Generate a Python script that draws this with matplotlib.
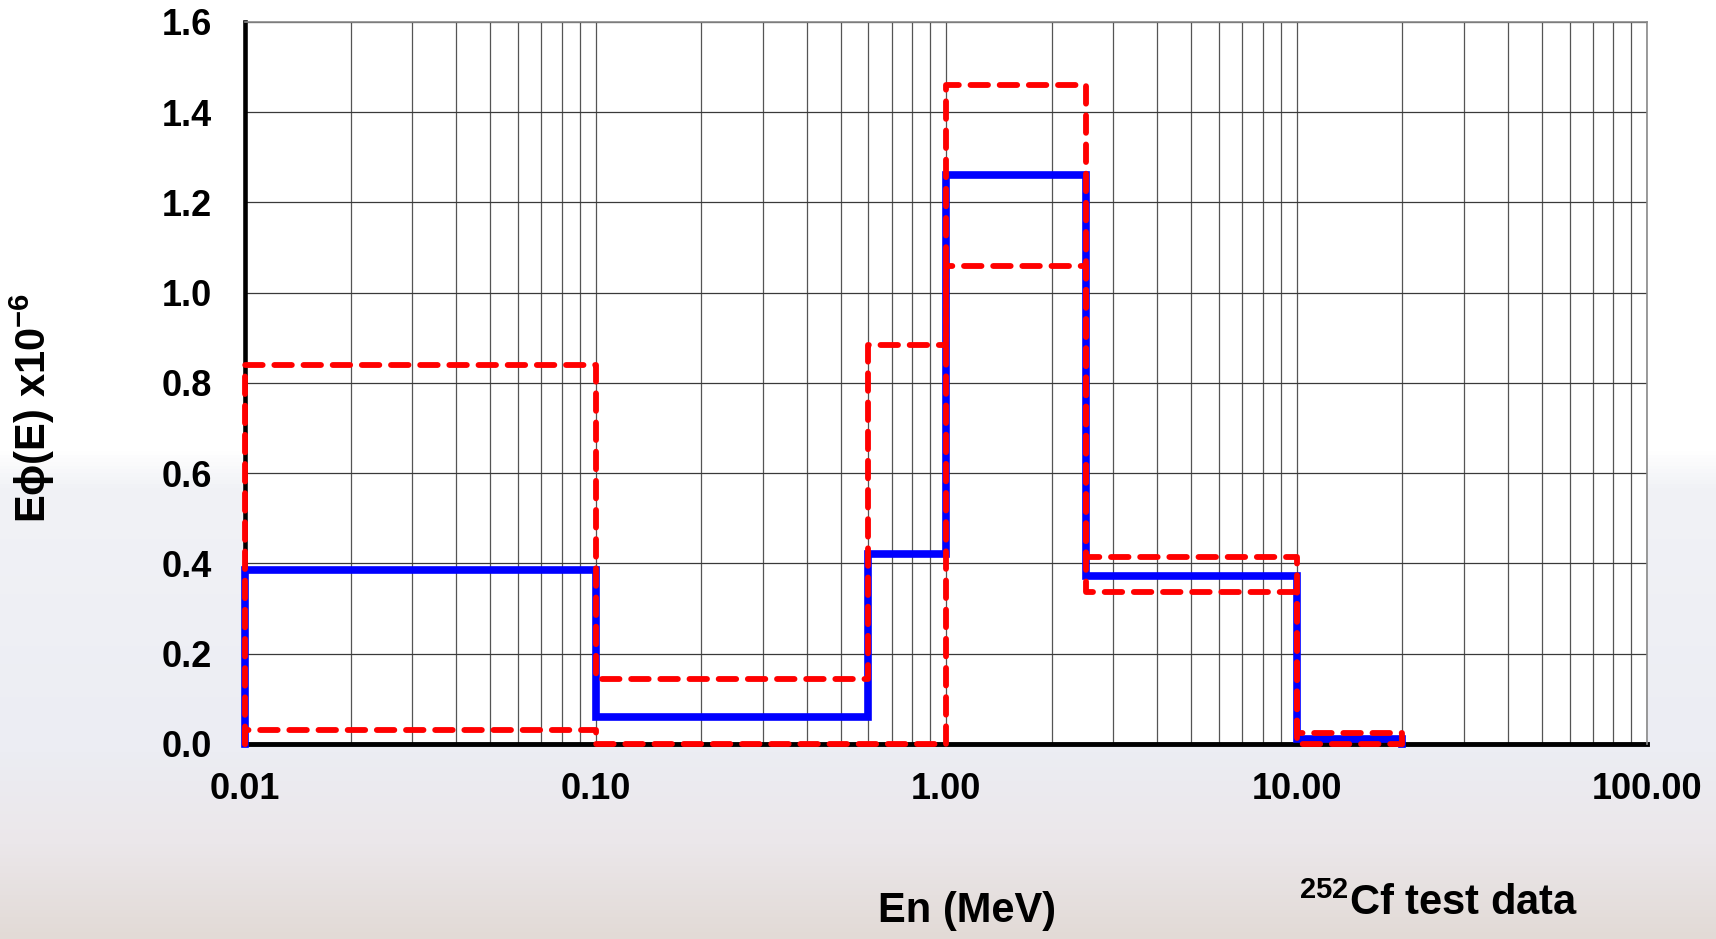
import numpy as np
import matplotlib.pyplot as plt
import matplotlib.colors as mcolors

# --- DATA ---
edges = [0.01, 0.1, 0.6, 1.0, 2.5, 10.0, 20.0]
flux = [0.385, 0.06, 0.42, 1.26, 0.373, 0.01]
flux_upper = [0.84, 0.145, 0.885, 1.46, 0.415, 0.024]
flux_lower = [0.03, 0.0, 0.0, 1.06, 0.337, 0.0]

xticks = [0.01, 0.1, 1.0, 10.0, 100.0]
xtick_labels = ["0.01", "0.10", "1.00", "10.00", "100.00"]
yticks = [0.0, 0.2, 0.4, 0.6, 0.8, 1.0, 1.2, 1.4, 1.6]


def _step(edges, vals):
    """Closed histogram outline starting and ending at zero."""
    xs = [edges[0]]
    ys = [0.0]
    for i, v in enumerate(vals):
        xs += [edges[i], edges[i + 1]]
        ys += [v, v]
    xs.append(edges[-1])
    ys.append(0.0)
    return xs, ys


plt.rcParams['font.family'] = ['Liberation Sans', 'DejaVu Sans']
plt.rcParams['font.weight'] = 'bold'

fig = plt.figure(figsize=(17.16, 9.39), dpi=100)

# faded background (white top, hazy bottom)
bg = fig.add_axes([0, 0, 1, 1], zorder=-10)
cmap = mcolors.LinearSegmentedColormap.from_list(
    'haze', [(0.0, '#ffffff'), (0.48, '#ffffff'), (0.52, '#f1f2f6'),
             (0.8, '#ecedf3'), (0.9, '#ebe7ea'), (1.0, '#e2dad6')])
bg.imshow(np.linspace(0, 1, 256).reshape(-1, 1), aspect='auto', cmap=cmap,
          extent=[0, 1, 0, 1], origin='upper')
bg.axis('off')

ax = fig.add_axes([0.1428, 0.2077, 0.8172, 0.7689])
ax.set_facecolor('white')
ax.set_xscale('log')
ax.set_xlim(0.01, 100)
ax.set_ylim(0, 1.6)

ax.grid(True, which='major', axis='y', color='#3a3a3a', lw=0.9)
ax.grid(True, which='both', axis='x', color='#555555', lw=0.9)
ax.set_axisbelow(True)

x, y = _step(edges, flux)
ax.plot(x, y, color='#0000ff', lw=5.5, zorder=3, clip_on=False,
        solid_joinstyle='miter')
for vals in (flux_upper, flux_lower):
    x, y = _step(edges, vals)
    ax.plot(x, y, color='#ff0000', lw=4.2, zorder=4, clip_on=False,
            linestyle=(0, (3.0, 2.0)), dash_capstyle='round')

for side in ('top', 'right'):
    ax.spines[side].set_color('#8a8a8a')
    ax.spines[side].set_linewidth(1.2)
ax.spines['left'].set_linewidth(3.3)
ax.spines['bottom'].set_linewidth(3.5)
ax.spines['left'].set_zorder(2)
ax.spines['bottom'].set_zorder(2)

ax.set_xticks(xticks)
ax.set_xticklabels(xtick_labels)
ax.set_yticks(yticks)
ax.set_yticklabels([f"{v:.1f}" for v in yticks])
ax.tick_params(axis='both', which='both', length=0)
ax.tick_params(axis='x', pad=20, labelsize=26)
ax.tick_params(axis='y', pad=24, labelsize=26)

fig.text(0.019, 0.566, r'E' + '\u03d5' + r'(E) x10$^{\mathregular{-6}}$',
         rotation=90, ha='center', va='center', fontsize=30, fontweight='bold')
fig.text(0.5635, 0.030, 'En (MeV)', ha='center', va='center',
         fontsize=30, fontweight='bold')
fig.text(0.8385, 0.038, r'$^{\mathregular{252}}$Cf test data', ha='center',
         va='center', fontsize=30, fontweight='bold')

fig.savefig('out.png', dpi=100, facecolor=fig.get_facecolor())
